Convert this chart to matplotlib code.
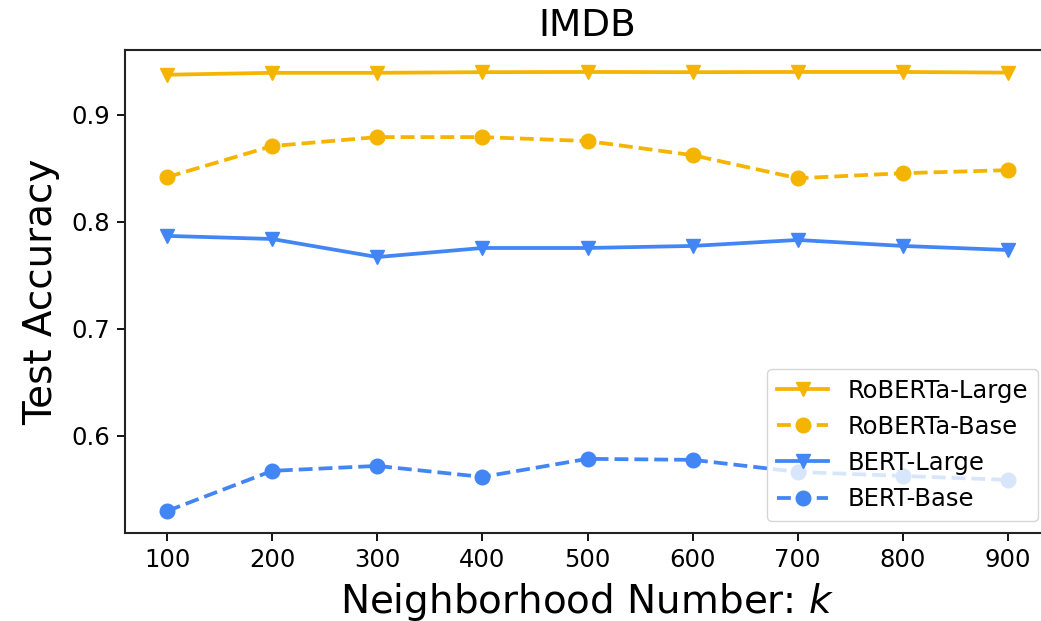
import matplotlib
matplotlib.use("Agg")
import matplotlib.pyplot as plt

k_values = [100, 200, 300, 400, 500, 600, 700, 800, 900]
roberta_large = [0.9376, 0.9394, 0.9394, 0.9400, 0.9402, 0.9400, 0.9402, 0.9402, 0.9396]
roberta_base = [0.8418, 0.8709, 0.8793, 0.8793, 0.8756, 0.8624, 0.8408, 0.8455, 0.8484]
bert_large = [0.7869, 0.7840, 0.7671, 0.7756, 0.7756, 0.7775, 0.7831, 0.7775, 0.7737]
bert_base = [0.5296, 0.5672, 0.5718, 0.5615, 0.5784, 0.5775, 0.5662, 0.5624, 0.5587]

orange = "#F4B400"
blue = "#4285F4"

fig = plt.figure(figsize=(10.41, 6.21), dpi=100)
ax = fig.add_axes([125/1041, 1-533/621, (1050-125)/1041, (533-50)/621])

lw = 2.7
ms = 10.5
ax.plot(k_values, roberta_large, color=orange, linestyle="-", marker="v", lw=lw, ms=ms, label="RoBERTa-Large")
ax.plot(k_values, roberta_base, color=orange, linestyle="--", marker="o", lw=lw, ms=ms, label="RoBERTa-Base")
ax.plot(k_values, bert_large, color=blue, linestyle="-", marker="v", lw=lw, ms=ms, label="BERT-Large")
ax.plot(k_values, bert_base, color=blue, linestyle="--", marker="o", lw=lw, ms=ms, label="BERT-Base")

ax.set_xticks(k_values)
ax.set_yticks([0.6, 0.7, 0.8, 0.9])
ax.tick_params(labelsize=17.5, length=6, width=1.3, pad=5)
for s in ax.spines.values():
    s.set_linewidth(1.5)
    s.set_color("#222222")
ax.spines["right"].set_visible(False)

ax.set_title("IMDB", fontsize=27, pad=10)
ax.set_xlabel("Neighborhood Number: $k$", fontsize=28, labelpad=6)
ax.set_ylabel("Test Accuracy", fontsize=28, labelpad=8)

ax.legend(loc="lower right", fontsize=17.5, framealpha=0.8, handlelength=2.1)

fig.savefig("out.png", dpi=100)
